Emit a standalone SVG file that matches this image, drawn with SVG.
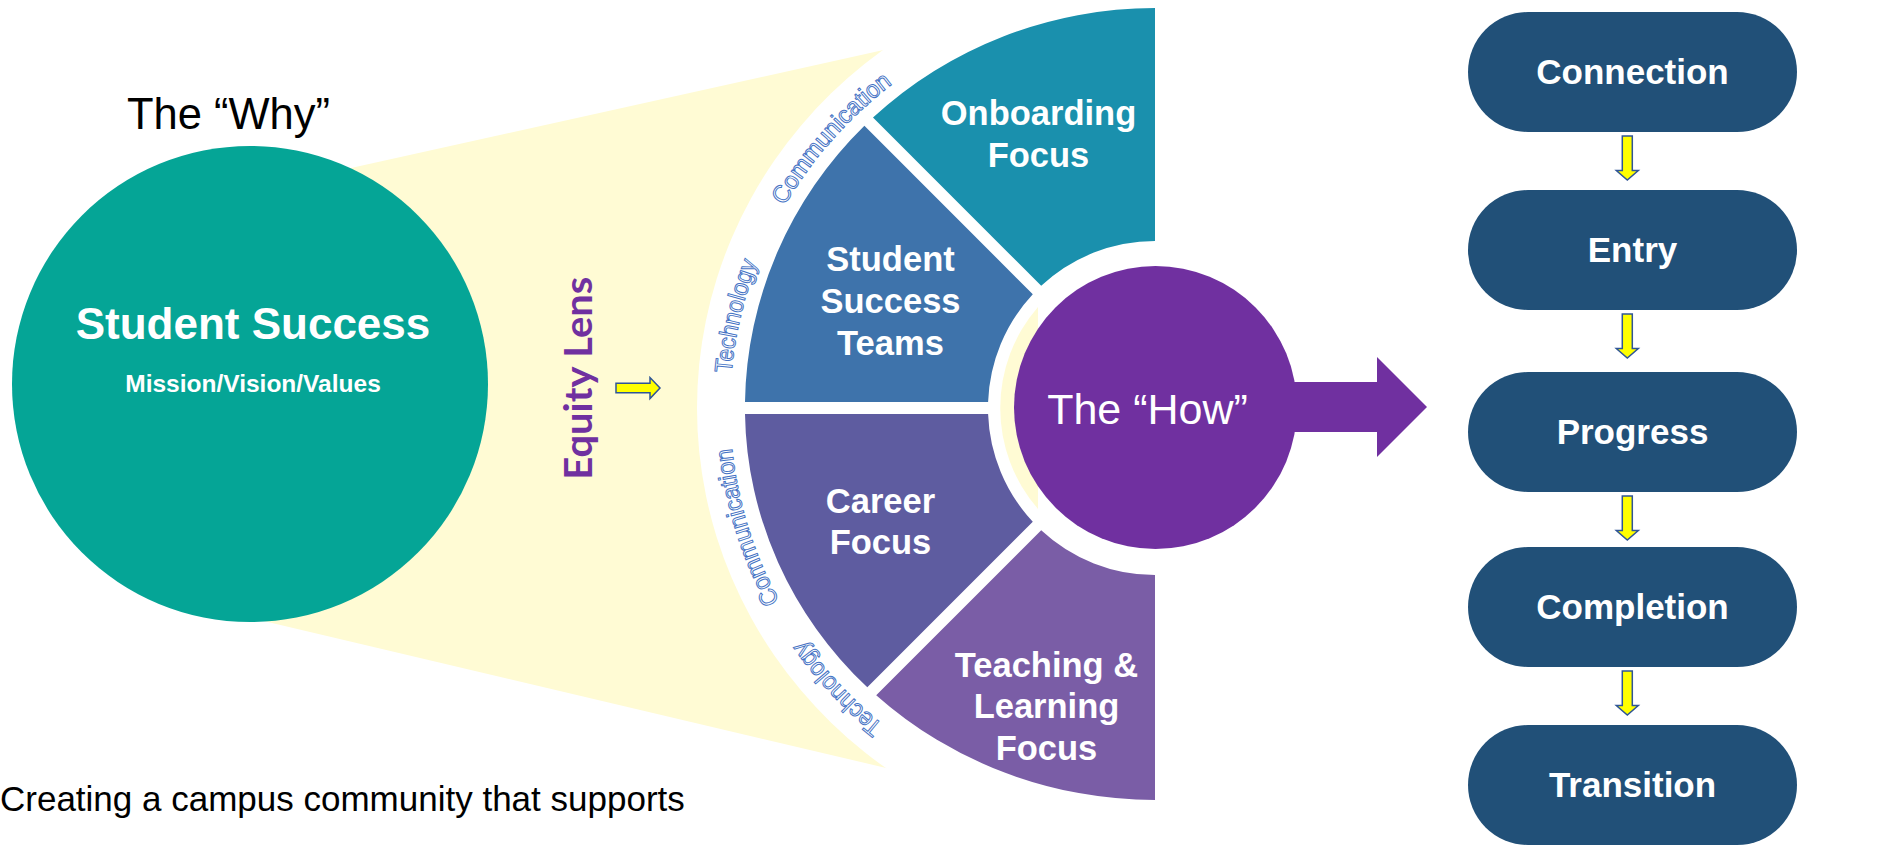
<svg xmlns="http://www.w3.org/2000/svg" width="1900" height="845" viewBox="0 0 1900 845">
<defs>
<style>
.why{font-family:"Liberation Sans",Arial,sans-serif;fill:#000}
.wt{font-family:"Liberation Sans",Arial,sans-serif;fill:#fff;font-weight:bold;text-anchor:middle}
.seg{font-size:34.5px}
.pill{fill:#215078}
.ptxt{font-size:35px}
.band{font-family:"Liberation Sans",Arial,sans-serif;font-size:24.5px;fill:#fff;stroke:#4472C4;stroke-width:1}
.yarrow{fill:#FFFF00;stroke:#2F5597;stroke-width:1.5;stroke-linejoin:miter}
</style>
<path id="bandPath" d="M1155,820 A425,412 0 0 1 730,408 A425,412 0 0 1 1155,-4" fill="none"/>
</defs>
<rect width="1900" height="845" fill="#fff"/>

<g id="cone">
<polygon points="250,190.4 960,33.1 960,785.4 250,617.8" fill="#FFFBD4"/>
<ellipse cx="1155" cy="408" rx="458" ry="445" fill="#fff"/>
</g>

<g id="why-node">
<circle cx="250" cy="384" r="238" fill="#05A596"/>
<text class="wt" x="253" y="339" font-size="44">Student Success</text>
<text class="wt" x="253" y="392" font-size="24.5">Mission/Vision/Values</text>
</g>
<text id="why-label" class="why" x="127" y="129" font-size="43.5">The “Why”</text>
<text id="caption" class="why" x="0" y="811" font-size="35">Creating a campus community that supports</text>

<g id="equity-lens">
<text transform="translate(591.7,378.3) rotate(-90)" text-anchor="middle" font-family="Lato,'Open Sans',sans-serif" font-weight="bold" font-size="39" fill="#7030A0" textLength="203" lengthAdjust="spacingAndGlyphs">Equity Lens</text>
</g>

<g id="band-labels" class="band">
<text><textPath href="#bandPath" startOffset="293" textLength="117" lengthAdjust="spacingAndGlyphs">Technology</textPath></text>
<text><textPath href="#bandPath" startOffset="456" textLength="161" lengthAdjust="spacingAndGlyphs">Communication</textPath></text>
<text><textPath href="#bandPath" startOffset="692" textLength="114" lengthAdjust="spacingAndGlyphs">Technology</textPath></text>
<text><textPath href="#bandPath" startOffset="869" textLength="164" lengthAdjust="spacingAndGlyphs">Communication</textPath></text>
</g>

<g id="onboarding">
<path d="M1155,8 A410,400 0 0 0 873,117.6 L1041.2,285.8 A167,167 0 0 1 1155,241 Z" fill="#1A90AD"/>
<text class="wt seg" x="1038.5" y="125">Onboarding</text>
<text class="wt seg" x="1038.5" y="167">Focus</text>
</g>
<g id="student-success-teams">
<path d="M1032.8,294.2 L864.4,125.8 A410,400 0 0 0 745,402 L988.1,402 A167,167 0 0 1 1032.8,294.2 Z" fill="#3E73AB"/>
<text class="wt seg" x="890.5" y="270.7">Student</text>
<text class="wt seg" x="890.5" y="312.5">Success</text>
<text class="wt seg" x="890.5" y="354.5">Teams</text>
</g>
<g id="career">
<path d="M988.1,414 L745,414 A410,392 0 0 0 867.3,687.3 L1032.8,521.8 A167,167 0 0 1 988.1,414 Z" fill="#5E5CA0"/>
<text class="wt seg" x="880.5" y="512.7">Career</text>
<text class="wt seg" x="880.5" y="554">Focus</text>
</g>
<g id="teaching-learning">
<path d="M1155,800 A410,392 0 0 1 876.2,695.2 L1041.2,530.2 A167,167 0 0 0 1155,575 Z" fill="#7A5DA6"/>
<text class="wt seg" x="1046.5" y="676.7">Teaching &amp;</text>
<text class="wt seg" x="1046.5" y="718">Learning</text>
<text class="wt seg" x="1046.5" y="760">Focus</text>
</g>

<g id="how-node">
<path d="M1038,307 A154,154 0 0 0 1038,509 Z" fill="#FFFBD4"/>
<circle cx="1155.5" cy="407.5" r="141.5" fill="#7030A0"/>
<text x="1147.5" y="424" text-anchor="middle" font-family="'Liberation Sans',Arial,sans-serif" font-size="43" fill="#fff">The “How”</text>
</g>

<g id="connectors">
<path d="M1280,382 L1377,382 L1377,357 L1427,407 L1377,457 L1377,432 L1280,432 Z" fill="#7030A0"/>
<path class="yarrow" d="M616,383.3 L650,383.3 L650,377.5 L660,388 L650,398.5 L650,392.7 L616,392.7 Z"/>
<path class="yarrow" d="M1622.3,136 L1632.3,136 L1632.3,170.5 L1638.3,170.5 L1627.3,180 L1616.3,170.5 L1622.3,170.5 Z"/>
<path class="yarrow" d="M1622.3,314 L1632.3,314 L1632.3,348.5 L1638.3,348.5 L1627.3,358 L1616.3,348.5 L1622.3,348.5 Z"/>
<path class="yarrow" d="M1622.3,496 L1632.3,496 L1632.3,530.5 L1638.3,530.5 L1627.3,540 L1616.3,530.5 L1622.3,530.5 Z"/>
<path class="yarrow" d="M1622.3,671 L1632.3,671 L1632.3,705.5 L1638.3,705.5 L1627.3,715 L1616.3,705.5 L1622.3,705.5 Z"/>
</g>

<g id="connection">
<rect class="pill" x="1468" y="12" width="329" height="120" rx="60"/>
<text class="wt ptxt" x="1632.5" y="84">Connection</text>
</g>
<g id="entry">
<rect class="pill" x="1468" y="190" width="329" height="120" rx="60"/>
<text class="wt ptxt" x="1632.5" y="262">Entry</text>
</g>
<g id="progress">
<rect class="pill" x="1468" y="372" width="329" height="120" rx="60"/>
<text class="wt ptxt" x="1632.5" y="444">Progress</text>
</g>
<g id="completion">
<rect class="pill" x="1468" y="547" width="329" height="120" rx="60"/>
<text class="wt ptxt" x="1632.5" y="619">Completion</text>
</g>
<g id="transition">
<rect class="pill" x="1468" y="725" width="329" height="120" rx="60"/>
<text class="wt ptxt" x="1632.5" y="797">Transition</text>
</g>
</svg>
